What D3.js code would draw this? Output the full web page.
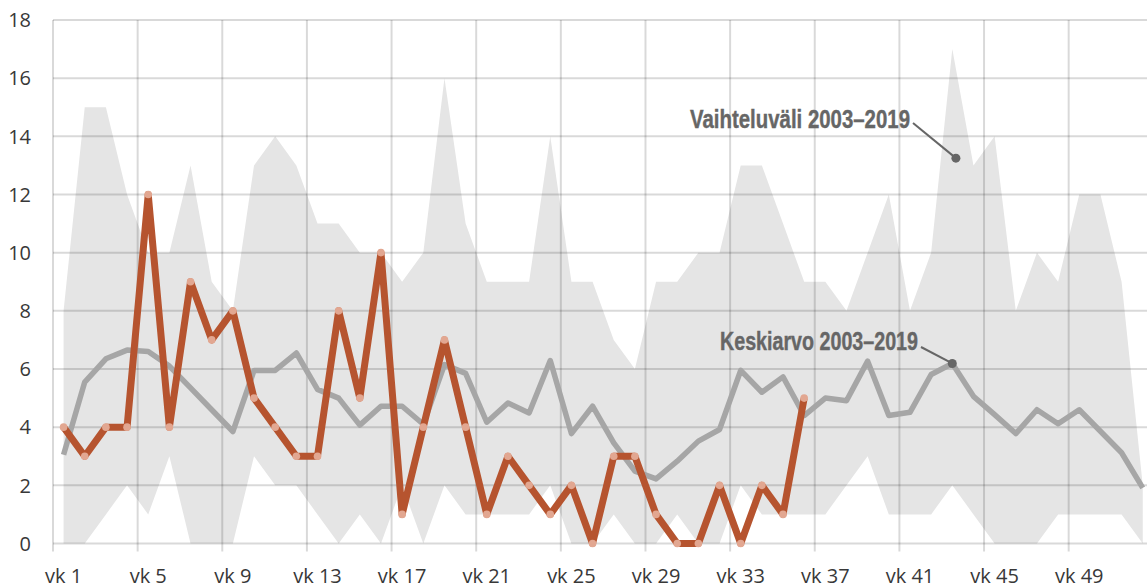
<!DOCTYPE html>
<html>
<head>
<meta charset="utf-8">
<script src="https://cdn.jsdelivr.net/npm/d3@7"></script>
<style>
  body { margin: 0; background: #fff; }
  .tick-label { font-family: "Open Sans", "Noto Sans", sans-serif; font-size: 20px; fill: #383838; }
  .note { font-family: "Liberation Sans Narrow", "Liberation Sans", sans-serif; font-weight: bold; font-size: 25px; fill: #666; stroke: #666; stroke-width: 0.4px; }
</style>
</head>
<body>
<div id="chart"></div>
<script>
// weekly counts, weeks 1-52
var weeks = d3.range(1, 53);
var rangeMax = [8, 15, 15, 12, 10, 10, 13, 9, 8, 13, 14, 13, 11, 11, 10, 10, 9, 10, 16, 11,
  9, 9, 9, 14, 9, 9, 7, 6, 9, 9, 10, 10, 13, 13, 11, 9, 9, 8, 10, 12,
  8, 10, 17, 13, 14, 8, 10, 9, 12, 12, 9, 2];
var rangeMin = [0, 0, 1, 2, 1, 3, 0, 0, 0, 3, 2, 2, 1, 0, 1, 0, 2, 0, 2, 1,
  1, 1, 1, 2, 0, 0, 1, 0, 0, 1, 0, 0, 2, 1, 1, 1, 1, 2, 3, 1,
  1, 1, 2, 1, 0, 0, 0, 1, 1, 1, 1, 0];
var mean = [3.05, 5.55, 6.35, 6.65, 6.6, 6.1, 5.35, 4.6, 3.85, 5.95, 5.95, 6.55, 5.3, 5.0, 4.07, 4.72, 4.72, 4.1, 6.15, 5.85,
  4.17, 4.83, 4.49, 6.29, 3.78, 4.72, 3.46, 2.49, 2.22, 2.83, 3.52, 3.92, 5.95, 5.2, 5.73, 4.4, 5.0, 4.91, 6.27, 4.4,
  4.51, 5.81, 6.19, 5.06, 4.43, 3.78, 4.6, 4.12, 4.6, 3.86, 3.12, 1.91];
// current year, weeks 1-36
var current = [4, 3, 4, 4, 12, 4, 9, 7, 8, 5, 4, 3, 3, 8, 5, 10, 1, 4, 7, 4,
  1, 3, 2, 1, 2, 0, 3, 3, 1, 0, 0, 2, 0, 2, 1, 5];
var xTickWeeks = [1, 5, 9, 13, 17, 21, 25, 29, 33, 37, 41, 45, 49];
var yTicks = [0, 2, 4, 6, 8, 10, 12, 14, 16, 18];
var notes = [
  {text: "Vaihteluväli 2003–2019", week: 43.17, value: 13.25},
  {text: "Keskiarvo 2003–2019", week: 43, value: 6.19}
];
// label placement for the notes
var notePos = [
  {tx: 690, ty: 128, len: 220, lx: 913, ly: 123},
  {tx: 720, ty: 350, len: 198, lx: 921, ly: 347}
];

var width = 1147, height = 588;
var marginLeft = 53, marginTop = 20, plotBottom = 543.5;
var step = 21.16;

var x = d3.scaleLinear().domain([0.5, 52.5]).range([marginLeft, marginLeft + 52 * step]);
var y = d3.scaleLinear().domain([0, 18]).range([plotBottom, marginTop]);

var svg = d3.select("#chart").append("svg")
  .attr("width", width)
  .attr("height", height);

var rows = weeks.map(function(w, i) {
  return {week: w, min: rangeMin[i], max: rangeMax[i], mean: mean[i]};
});

// range area
var area = d3.area()
  .x(function(d) { return x(d.week); })
  .y0(function(d) { return y(d.min); })
  .y1(function(d) { return y(d.max); });

svg.append("path")
  .datum(rows)
  .attr("fill", "#e5e5e5")
  .attr("d", area);

// grid
svg.append("g")
  .selectAll("line")
  .data(yTicks)
  .enter().append("line")
  .attr("x1", marginLeft)
  .attr("x2", width)
  .attr("y1", function(d) { return y(d); })
  .attr("y2", function(d) { return y(d); })
  .attr("stroke", "rgba(0,0,0,0.15)")
  .attr("stroke-width", 2);

svg.append("g")
  .selectAll("line")
  .data(xTickWeeks)
  .enter().append("line")
  .attr("x1", function(d) { return x(d - 0.5); })
  .attr("x2", function(d) { return x(d - 0.5); })
  .attr("y1", y(18))
  .attr("y2", plotBottom + 8)
  .attr("stroke", "rgba(0,0,0,0.15)")
  .attr("stroke-width", 2);

// mean line
var meanLine = d3.line()
  .x(function(d) { return x(d.week); })
  .y(function(d) { return y(d.mean); });

svg.append("path")
  .datum(rows)
  .attr("fill", "none")
  .attr("stroke", "#a6a6a6")
  .attr("stroke-width", 5.5)
  .attr("stroke-linejoin", "round")
  .attr("d", meanLine);

// current year
var cur = current.map(function(v, i) { return {week: weeks[i], value: v}; });
var curLine = d3.line()
  .x(function(d) { return x(d.week); })
  .y(function(d) { return y(d.value); });

svg.append("path")
  .datum(cur)
  .attr("fill", "none")
  .attr("stroke", "#b6542f")
  .attr("stroke-width", 7)
  .attr("stroke-linejoin", "round")
  .attr("d", curLine);

svg.append("g")
  .selectAll("circle")
  .data(cur)
  .enter().append("circle")
  .attr("cx", function(d) { return x(d.week); })
  .attr("cy", function(d) { return y(d.value); })
  .attr("r", 3.8)
  .attr("fill", "#e2a791");

// annotations
var note = svg.append("g").selectAll("g")
  .data(notes)
  .enter().append("g");

note.append("line")
  .attr("x1", function(d, i) { return notePos[i].lx; })
  .attr("y1", function(d, i) { return notePos[i].ly; })
  .attr("x2", function(d) { return x(d.week); })
  .attr("y2", function(d) { return y(d.value); })
  .attr("stroke", "#666")
  .attr("stroke-width", 2);

note.append("circle")
  .attr("cx", function(d) { return x(d.week); })
  .attr("cy", function(d) { return y(d.value); })
  .attr("r", 4.5)
  .attr("fill", "#666");

note.append("text")
  .attr("class", "note")
  .attr("x", function(d, i) { return notePos[i].tx; })
  .attr("y", function(d, i) { return notePos[i].ty; })
  .attr("textLength", function(d, i) { return notePos[i].len; })
  .attr("lengthAdjust", "spacingAndGlyphs")
  .text(function(d) { return d.text; });

// axis labels
svg.append("g")
  .selectAll("text")
  .data(yTicks)
  .enter().append("text")
  .attr("class", "tick-label")
  .attr("x", 31)
  .attr("y", function(d) { return y(d); })
  .attr("dy", "0.36em")
  .attr("text-anchor", "end")
  .text(function(d) { return d; });

svg.append("g")
  .selectAll("text")
  .data(xTickWeeks)
  .enter().append("text")
  .attr("class", "tick-label")
  .attr("x", function(d) { return x(d); })
  .attr("y", 583)
  .attr("text-anchor", "middle")
  .text(function(d) { return "vk " + d; });
</script>
</body>
</html>
